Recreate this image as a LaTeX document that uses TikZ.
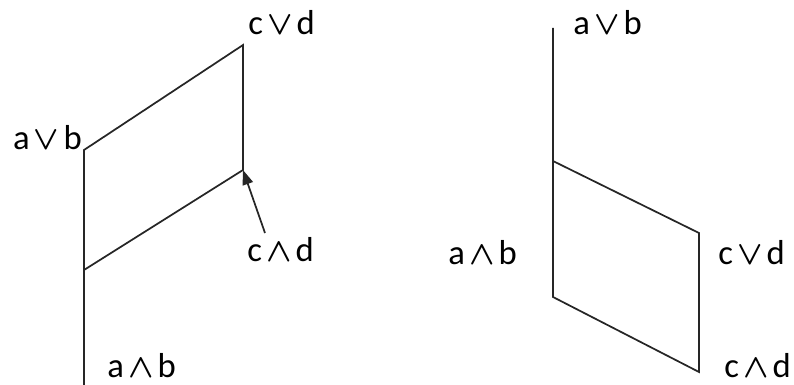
\documentclass[tikz,border=0pt]{standalone}
\usepackage{fontspec}
\setmainfont{Carlito}
\usetikzlibrary{arrows.meta}
\newcommand\myjoin{\hspace{0.12em}{\boldmath$\vee$}\hspace{0.12em}}
\newcommand\mymeet{\hspace{0.12em}{\boldmath$\wedge$}\hspace{0.12em}}
\tikzset{
  edge/.style={draw=black!85, line width=1.3pt},
  lbl/.style={inner sep=0pt, font=\fontsize{26}{26}\selectfont}
}
\begin{document}
\begin{tikzpicture}[x=0.75pt,y=-0.75pt]
\useasboundingbox (0,0) rectangle (794,385);
% left diagram
\coordinate (L0) at (84,385);
\coordinate (L1) at (84,270);
\coordinate (L2) at (84,150);
\coordinate (L3) at (243,45);
\coordinate (L4) at (243,170);
\coordinate (A) at (265,233);
\draw[edge] (L0) -- (L1) -- (L2) -- (L3) -- (L4) -- (L1);
\draw[edge, -{Triangle[length=11pt,width=8pt]}] (A) -- (L4);
\node[lbl, anchor=base east] (la) at (82,150) {a\myjoin b};
\node[lbl, anchor=base west] (lb) at (248,35) {c\myjoin d};
\node[lbl, anchor=base west] (lc) at (247,262) {c\mymeet d};
\node[lbl, anchor=base west] (ld) at (107,377) {a\mymeet b};
% right diagram
\coordinate (R0) at (553,28);
\coordinate (R1) at (553,161);
\coordinate (R2) at (553,297);
\coordinate (R3) at (699,233);
\coordinate (R4) at (699,372);
\draw[edge] (R0) -- (R1) -- (R2) -- (R4) -- (R3) -- (R1);
\node[lbl, anchor=base west] (ra) at (573,35) {a\myjoin b};
\node[lbl, anchor=base west] (rb) at (448,265) {a\mymeet b};
\node[lbl, anchor=base west] (rc) at (718,265) {c\myjoin d};
\node[lbl, anchor=base west] (rd) at (724,378) {c\mymeet d};
\end{tikzpicture}
\end{document}
